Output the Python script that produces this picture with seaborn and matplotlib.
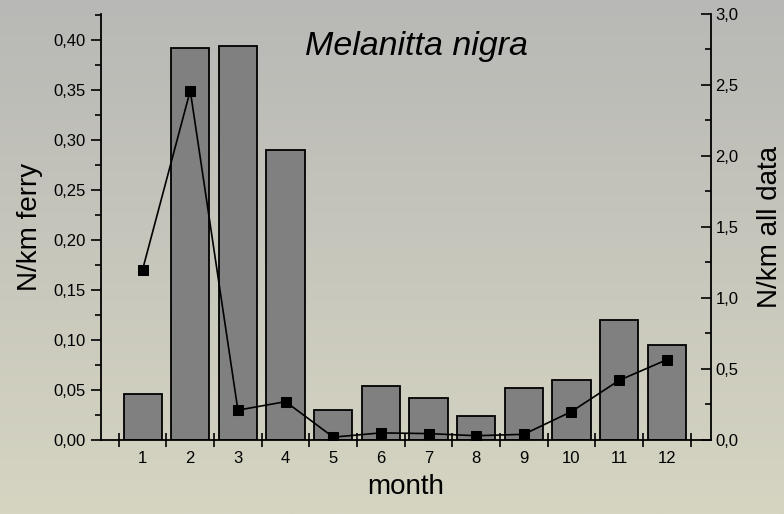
import numpy as np
import pandas as pd
import seaborn as sns
import matplotlib.pyplot as plt
from matplotlib.ticker import FuncFormatter, MultipleLocator, FixedLocator

months = [1, 2, 3, 4, 5, 6, 7, 8, 9, 10, 11, 12]
ferry = [0.046, 0.392, 0.394, 0.290, 0.030, 0.054, 0.042, 0.024, 0.052, 0.060, 0.120, 0.095]
all_data = [1.20, 2.46, 0.21, 0.27, 0.02, 0.05, 0.045, 0.03, 0.04, 0.20, 0.42, 0.565]

sns.set_theme(style="ticks")
plt.rcParams['font.family'] = ['Liberation Sans', 'DejaVu Sans']
plt.rcParams['text.color'] = 'black'
plt.rcParams['axes.labelcolor'] = 'black'

df = pd.DataFrame({"month": months, "ferry": ferry, "all": all_data})

fig = plt.figure(figsize=(7.84, 5.14), dpi=100)

# gradient background, grey on top to beige at the bottom
bg = fig.add_axes([0, 0, 1, 1], zorder=-10)
top = np.array([184, 184, 182]) / 255
bot = np.array([214, 213, 194]) / 255
t = np.linspace(0, 1, 256)[:, None]
grad = (top[None, :] * (1 - t) + bot[None, :] * t)[:, None, :]
bg.imshow(grad, aspect="auto", extent=[0, 1, 0, 1])
bg.axis("off")

ax = fig.add_axes([0.1284, 0.144, 0.778, 0.8288])
ax.patch.set_visible(False)
sns.barplot(data=df, x="month", y="ferry", native_scale=True, color="#808080",
            saturation=1, edgecolor="black", linewidth=1.3, width=0.8, ax=ax)

ax2 = ax.twinx()
sns.lineplot(data=df, x="month", y="all", ax=ax2, color="black", marker="s",
             markersize=7.5, markeredgecolor="black", linewidth=1.2)

ax.set_xlim(0.12, 12.92)
ax.set_ylim(0, 0.426)
ax2.set_ylim(0, 3.0)

for a in (ax, ax2):
    a.spines["top"].set_visible(False)
    for s in a.spines.values():
        s.set_linewidth(1.3)
        s.set_color("black")

ax.spines["right"].set_visible(False)
ax2.spines["left"].set_visible(False)
ax2.spines["bottom"].set_visible(False)

ax.yaxis.set_major_locator(MultipleLocator(0.05))
ax.yaxis.set_minor_locator(MultipleLocator(0.025))
ax.yaxis.set_major_formatter(FuncFormatter(lambda v, p: f"{v:.2f}".replace(".", ",")))
ax2.yaxis.set_major_locator(MultipleLocator(0.5))
ax2.yaxis.set_minor_locator(MultipleLocator(0.25))
ax2.yaxis.set_major_formatter(FuncFormatter(lambda v, p: f"{v:.1f}".replace(".", ",")))

ax.xaxis.set_major_locator(FixedLocator(months))
ax.xaxis.set_minor_locator(FixedLocator([m - 0.5 for m in months] + [12.5]))

ax.tick_params(axis="y", which="major", direction="out", length=7, width=1.2, labelsize=12, color="black", labelcolor="black")
ax.tick_params(axis="y", which="minor", direction="out", length=4.5, width=1.2, color="black")
ax.tick_params(axis="x", which="major", direction="out", length=0, width=1.2, labelsize=12, pad=8, labelcolor="black")
ax.tick_params(axis="x", which="minor", direction="inout", length=10, width=1.2, color="black")
ax2.tick_params(axis="y", which="major", direction="in", length=7, width=1.2, labelsize=12, color="black", labelcolor="black")
ax2.tick_params(axis="y", which="minor", direction="in", length=4.5, width=1.2, color="black")

ax.set_xlabel("month", fontsize=20, labelpad=6)
ax.set_ylabel("N/km ferry", fontsize=20, labelpad=8)
ax2.set_ylabel("N/km all data", fontsize=20, labelpad=13)

ax.text(0.335, 0.904, "Melanitta nigra", transform=ax.transAxes, fontsize=24.5,
        style="italic", ha="left", va="baseline")

fig.savefig("out.png", dpi=100)
